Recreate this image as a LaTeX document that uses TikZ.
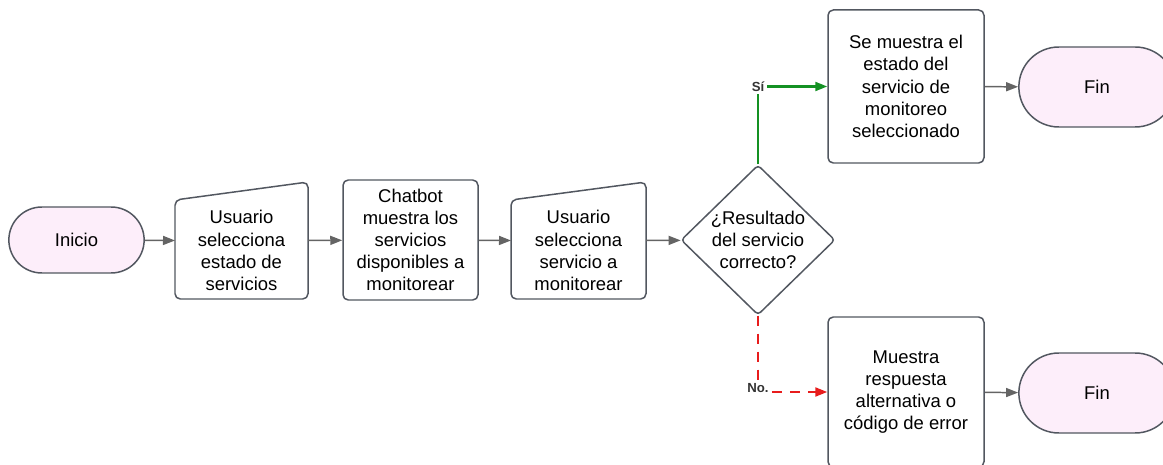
\documentclass[tikz,border=0pt]{standalone}
\usepackage{fontspec}
\setmainfont{Liberation Sans}
\usetikzlibrary{shapes.geometric,shapes.misc,arrows.meta}
\definecolor{borde}{RGB}{82,87,96}
\definecolor{flechagris}{RGB}{100,100,100}
\definecolor{rosa}{RGB}{253,238,250}
\definecolor{verde}{RGB}{20,145,35}
\definecolor{rojo}{RGB}{232,28,28}
\begin{document}
\begin{tikzpicture}[>={Triangle[length=2.4mm,width=1.8mm]},
    font=\fontsize{10.5}{12.6}\selectfont,
    terminal/.style={rounded rectangle,draw=borde,fill=rosa,line width=.85pt},
    proceso/.style={rectangle,draw=borde,line width=.85pt,rounded corners=3pt,align=center},
    hueco/.style={rectangle,inner sep=0,outer sep=0},
    flecha/.style={->,draw=flechagris,line width=.85pt},
    etiqueta/.style={fill=white,inner sep=1.5pt,text=black!80,font=\fontsize{7.5}{9}\bfseries\selectfont}]
    \useasboundingbox (0,0) rectangle (23.26,-9.3);

    \node[terminal,minimum width=2.94cm,minimum height=1.32cm] (inicio) at (1.53,-4.8) {Inicio};

    \node[hueco,minimum width=2.66cm,minimum height=2.34cm] (usr1) at (4.83,-4.81) {};
    \node[align=center] at ([yshift=-.2cm]usr1) {Usuario\\selecciona\\estado de\\servicios};

    \node[proceso,minimum width=2.7cm,minimum height=2.4cm] (bot) at (8.21,-4.8) {Chatbot\\muestra los\\servicios\\disponibles a\\monitorear};

    \node[hueco,minimum width=2.7cm,minimum height=2.34cm] (usr2) at (11.57,-4.81) {};
    \node[align=center] at ([yshift=-.2cm]usr2) {Usuario\\selecciona\\servicio a\\monitorear};

    \foreach \n in {usr1,usr2}
      \draw[draw=borde,line width=.85pt,rounded corners=3pt] (\n.south west) -- ([yshift=-.36cm]\n.north west) -- (\n.north east) -- (\n.south east) -- cycle;

    \node[diamond,draw=borde,line width=.85pt,rounded corners=2pt,inner sep=0,minimum width=3.08cm,minimum height=3cm] (dec) at (15.16,-4.8) {};
    \node[align=center] at (dec) {¿Resultado\\del servicio\\correcto?};

    \node[proceso,minimum width=3.12cm,minimum height=3.06cm] (res) at (18.12,-1.73) {Se muestra el\\estado del\\servicio de\\monitoreo\\seleccionado};
    \node[proceso,minimum width=3.12cm,minimum height=3cm] (err) at (18.12,-7.84) {Muestra\\respuesta\\alternativa o\\código de error};

    \node[terminal,minimum width=3.36cm,minimum height=1.6cm] (fin1) at (21.94,-1.74) {Fin};
    \node[terminal,minimum width=3.36cm,minimum height=1.6cm] (fin2) at (21.94,-7.86) {Fin};

    \draw[flecha] (inicio) -- (usr1.west);
    \draw[flecha] (usr1.east) -- (bot);
    \draw[flecha] (bot) -- (usr2.west);
    \draw[flecha] (usr2.east) -- (dec);
    \draw[flecha] (res) -- (fin1);
    \draw[flecha] (err) -- (fin2);

    \draw[->,verde,line width=1.2pt] (dec.north) |- node[etiqueta,pos=.5] {Sí} (res.west);
    \draw[->,rojo,line width=1.2pt,dash pattern=on 2mm off 1.6mm] (dec.south) |- node[etiqueta,pos=.5,yshift=2pt] {No.} (err.west);
  \end{tikzpicture}
\end{document}
